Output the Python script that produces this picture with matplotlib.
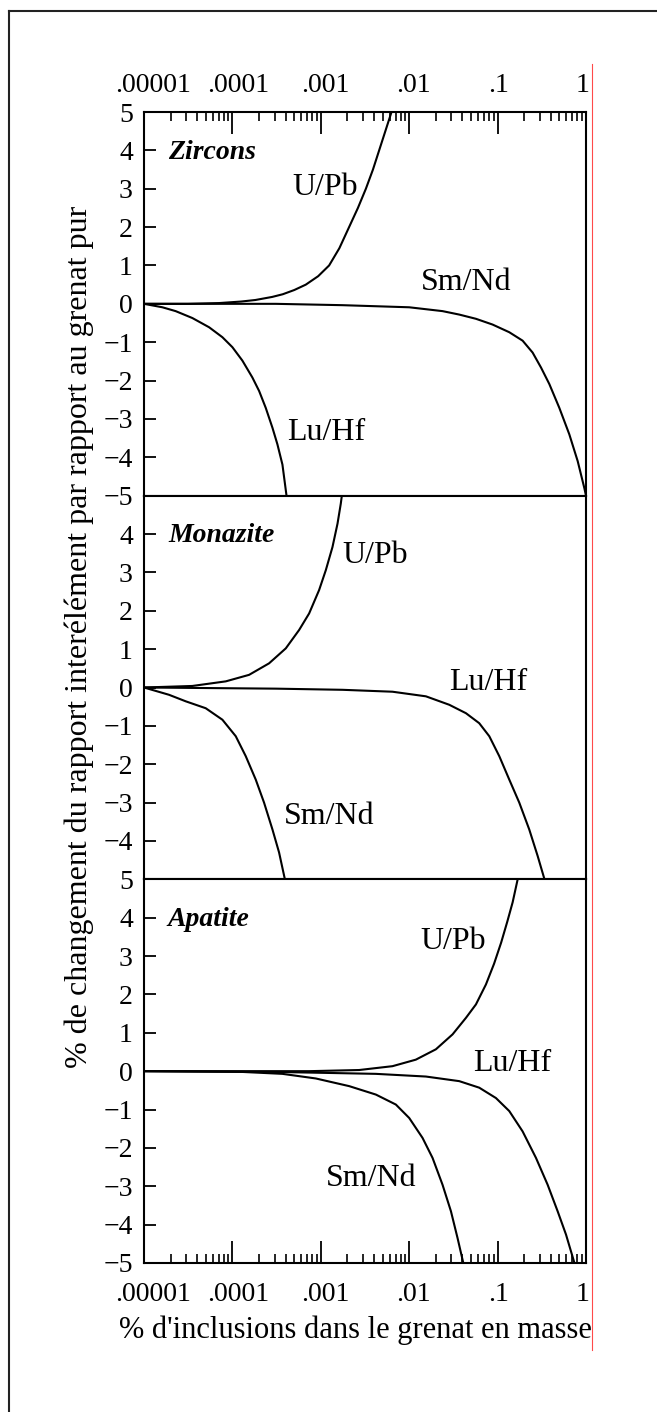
"""Three stacked panels: % change of inter-element ratios vs % inclusions in garnet."""

import numpy as np
import matplotlib.pyplot as plt
from matplotlib.lines import Line2D
from matplotlib.ticker import FixedLocator, LogLocator, NullFormatter
from matplotlib.transforms import ScaledTranslation

plt.rcParams['font.family'] = ['Liberation Serif', 'DejaVu Serif']

# x values are log10 of % inclusions, y is % change

# --- Zircons ---
zircon_upb_logx = [-5.0, -4.5, -4.15, -3.9, -3.74, -3.55, -3.43, -3.3, -3.17, -3.03,
                   -2.906, -2.79, -2.68, -2.58, -2.49, -2.41, -2.34, -2.27, -2.20]
zircon_upb_y = [0.0, 0.0, 0.02, 0.06, 0.1, 0.18, 0.25, 0.36, 0.5, 0.72,
                1.0, 1.45, 2.0, 2.5, 3.0, 3.5, 4.0, 4.5, 5.0]

zircon_smnd_logx = [-5.0, -3.51, -2.755, -2.0, -1.623, -1.434, -1.245, -1.057, -0.868,
                    -0.717, -0.604, -0.509, -0.415, -0.302, -0.189, -0.094, -0.019, 0.0]
zircon_smnd_y = [0.0, 0.0, -0.035, -0.09, -0.19, -0.28, -0.39, -0.54, -0.74,
                 -0.96, -1.27, -1.66, -2.09, -2.71, -3.40, -4.10, -4.80, -5.0]

zircon_luhf_logx = [-5.0, -4.792, -4.642, -4.453, -4.264, -4.113, -4.0, -3.887, -3.774,
                    -3.698, -3.623, -3.547, -3.491, -3.434, -3.389]
zircon_luhf_y = [0.0, -0.09, -0.19, -0.37, -0.61, -0.87, -1.13, -1.48, -1.92,
                 -2.27, -2.71, -3.23, -3.66, -4.19, -4.98]

# --- Monazite ---
monazite_upb_logx = [-5.0, -4.453, -4.075, -3.811, -3.585, -3.396, -3.245, -3.132, -3.019,
                     -2.943, -2.868, -2.811, -2.774, -2.762]
monazite_upb_y = [0.0, 0.04, 0.16, 0.33, 0.63, 1.02, 1.50, 1.93, 2.54,
                  3.06, 3.66, 4.27, 4.79, 5.0]

monazite_luhf_logx = [-5.0, -3.509, -2.755, -2.189, -1.811, -1.547, -1.358, -1.208, -1.094,
                      -0.981, -0.868, -0.755, -0.642, -0.547, -0.472]
monazite_luhf_y = [0.0, -0.03, -0.06, -0.11, -0.23, -0.45, -0.67, -0.93, -1.27,
                   -1.79, -2.40, -3.0, -3.70, -4.39, -4.98]

monazite_smnd_logx = [-5.0, -4.717, -4.528, -4.302, -4.113, -3.962, -3.849, -3.736, -3.642,
                      -3.547, -3.472, -3.408]
monazite_smnd_y = [0.0, -0.19, -0.36, -0.54, -0.84, -1.27, -1.79, -2.40, -3.0,
                   -3.70, -4.30, -4.98]

# --- Apatite ---
apatite_upb_logx = [-5.0, -3.132, -2.566, -2.189, -1.925, -1.698, -1.509, -1.358, -1.245,
                    -1.132, -1.04, -0.96, -0.89, -0.83, -0.775]
apatite_upb_y = [0.0, 0.0, 0.03, 0.13, 0.30, 0.57, 0.96, 1.39, 1.74,
                 2.26, 2.8, 3.35, 3.9, 4.4, 4.98]

apatite_luhf_logx = [-5.0, -3.509, -2.377, -1.811, -1.434, -1.208, -1.019, -0.868, -0.717,
                     -0.566, -0.434, -0.321, -0.226, -0.132]
apatite_luhf_y = [0.0, -0.02, -0.07, -0.14, -0.26, -0.43, -0.70, -1.04, -1.57,
                  -2.26, -2.96, -3.65, -4.26, -4.99]

apatite_smnd_logx = [-5.0, -3.887, -3.434, -3.057, -2.679, -2.377, -2.151, -2.0, -1.849,
                     -1.736, -1.623, -1.528, -1.453, -1.389]
apatite_smnd_y = [0.0, -0.02, -0.07, -0.19, -0.39, -0.61, -0.87, -1.22, -1.74,
                  -2.26, -2.96, -3.65, -4.35, -4.99]

panel_names = ['Zircons', 'Monazite', 'Apatite']
panel_curves = [
    [('U/Pb', zircon_upb_logx, zircon_upb_y),
     ('Sm/Nd', zircon_smnd_logx, zircon_smnd_y),
     ('Lu/Hf', zircon_luhf_logx, zircon_luhf_y)],
    [('U/Pb', monazite_upb_logx, monazite_upb_y),
     ('Lu/Hf', monazite_luhf_logx, monazite_luhf_y),
     ('Sm/Nd', monazite_smnd_logx, monazite_smnd_y)],
    [('U/Pb', apatite_upb_logx, apatite_upb_y),
     ('Lu/Hf', apatite_luhf_logx, apatite_luhf_y),
     ('Sm/Nd', apatite_smnd_logx, apatite_smnd_y)],
]

x_ticks = [1e-5, 1e-4, 1e-3, 1e-2, 1e-1, 1]
x_ticklabels = ['.00001', '.0001', '.001', '.01', '.1', '1']
y_ticks_outer = list(range(5, -6, -1))
y_ticks_middle = list(range(4, -5, -1))

x_label = "% d'inclusions dans le grenat en masse"
y_label = "% de changement du rapport interélément par rapport au grenat pur"

# where each curve label sits (log10 x, y) in its panel
label_pos = [
    {'U/Pb': (-2.953, 3.04), 'Sm/Nd': (-1.357, 0.55), 'Lu/Hf': (-2.94, -3.35)},
    {'U/Pb': (-2.387, 3.44), 'Lu/Hf': (-1.109, 0.14), 'Sm/Nd': (-2.907, -3.36)},
    {'U/Pb': (-1.505, 3.39), 'Lu/Hf': (-0.837, 0.21), 'Sm/Nd': (-2.432, -2.79)},
]
# the decade labels sit a little right of their ticks in the original (pixels)
xlabel_shift = [9, 6, 5, 4, 1, -3]

W, H = 657, 1412
fig = plt.figure(figsize=(W / 100, H / 100), dpi=100)
gs = fig.add_gridspec(3, 1, left=144 / W, right=586 / W,
                      top=1 - 112 / H, bottom=1 - 1263 / H, hspace=0)

def fmt(v):
    return str(v).replace('-', '\u2212')

for i, name in enumerate(panel_names):
    ax = fig.add_subplot(gs[i])
    for lab, lx, y in panel_curves[i]:
        ax.plot(10 ** np.asarray(lx), y, color='black', lw=1.5, solid_joinstyle='round')
        px, py = label_pos[i][lab]
        ax.text(10 ** px, py, lab, fontsize=23, ha='center', va='center')

    ax.text(10 ** -4.73, 3.95, name, fontsize=20, fontweight='bold', fontstyle='italic',
            ha='left', va='center')

    ax.set_xscale('log')
    ax.set_xlim(1e-5, 1)
    ax.set_ylim(-5, 5)
    for sp in ax.spines.values():
        sp.set_linewidth(1.5)

    ax.xaxis.set_major_locator(FixedLocator(x_ticks))
    ax.xaxis.set_minor_locator(LogLocator(base=10, subs=np.arange(2, 10), numticks=100))
    ax.xaxis.set_minor_formatter(NullFormatter())
    ax.set_xticklabels(x_ticklabels)
    ax.tick_params(axis='x', which='major', direction='in', length=15.5, width=1.3,
                   labelsize=20)
    ax.tick_params(axis='x', which='minor', direction='in', length=6.5, width=1.2)

    if i == 0:
        ax.tick_params(axis='x', which='both', top=True, bottom=False,
                       labeltop=True, labelbottom=False)
        ax.tick_params(axis='x', which='major', pad=10)
    elif i == 1:
        ax.tick_params(axis='x', which='both', top=False, bottom=False,
                       labeltop=False, labelbottom=False)
    else:
        ax.tick_params(axis='x', which='both', top=False, bottom=True,
                       labeltop=False, labelbottom=True)
        ax.tick_params(axis='x', which='major', pad=14)

    yt = y_ticks_middle if i == 1 else y_ticks_outer
    ax.set_yticks(yt)
    ax.set_yticklabels([fmt(v) for v in yt])
    ax.tick_params(axis='y', which='major', direction='in', length=8.5, width=1.3,
                   labelsize=20, pad=8)

    for tick, dx in zip(ax.xaxis.get_major_ticks(), xlabel_shift):
        off = ScaledTranslation(dx / 100, 0, fig.dpi_scale_trans)
        tick.label1.set_transform(tick.label1.get_transform() + off)
        tick.label2.set_transform(tick.label2.get_transform() + off)

fig.text(355 / W, 1 - 1330 / H, x_label, fontsize=22, ha='center', va='center')
fig.text(79 / W, 1 - 637 / H, y_label, fontsize=23, rotation=90, ha='center', va='center')

# red guide line on the right and the frame lines at top/left
fig.add_artist(Line2D([592 / W, 592 / W], [1 - 64 / H, 1 - 1350 / H],
                      transform=fig.transFigure, color='#ff4a4a', lw=0.8))
fig.add_artist(Line2D([9 / W, 1], [1 - 11 / H, 1 - 11 / H],
                      transform=fig.transFigure, color='#222222', lw=1.5))
fig.add_artist(Line2D([9 / W, 9 / W], [1 - 11 / H, 0],
                      transform=fig.transFigure, color='#222222', lw=1.5))

fig.savefig('out.png', dpi=100)
plt.close(fig)
